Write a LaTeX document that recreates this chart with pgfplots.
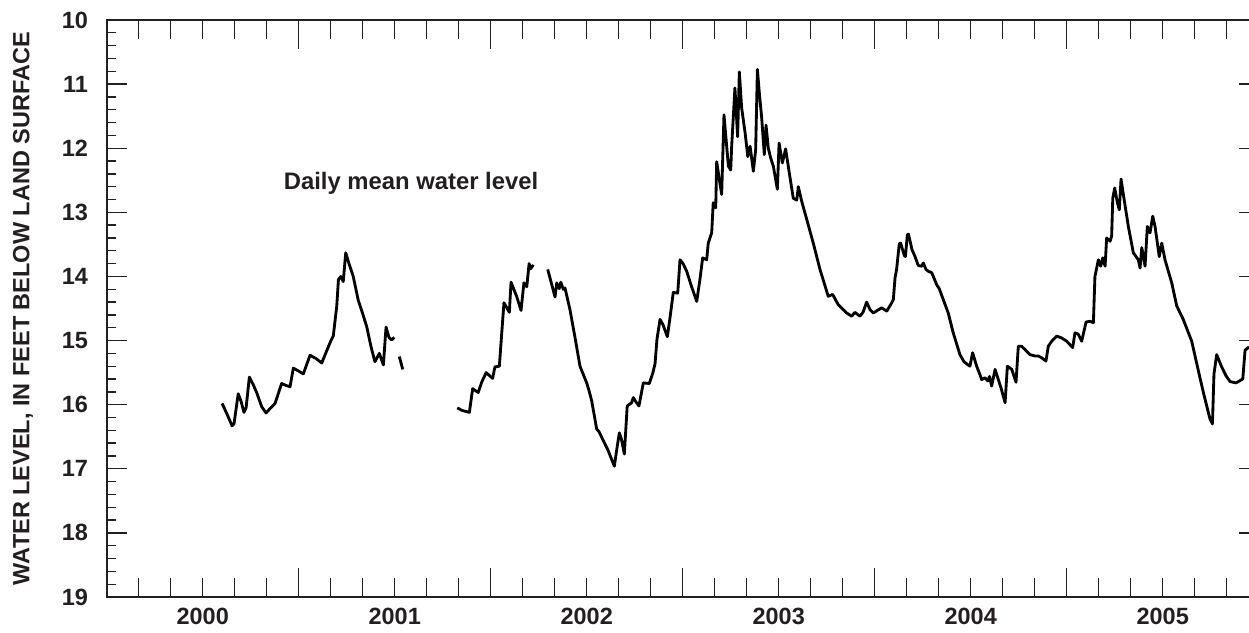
\documentclass[border=0pt]{standalone}
\usepackage{pgfplots}
\pgfplotsset{compat=1.18}
\usepackage{fontspec}
\setmainfont{Liberation Sans}
\definecolor{ink}{RGB}{35,31,32}

% Daily mean water level, feet below land surface (decimal year, depth)
\pgfplotstableread{
year depth
2000.601 15.98
2000.627 16.15
2000.653 16.33
2000.663 16.30
2000.685 15.83
2000.700 15.95
2000.715 16.12
2000.726 16.05
2000.743 15.57
2000.762 15.68
2000.781 15.81
2000.807 16.03
2000.830 16.13
2000.851 16.06
2000.877 15.98
2000.911 15.67
2000.934 15.70
2000.955 15.72
2000.972 15.43
2000.996 15.47
2001.024 15.52
2001.059 15.23
2001.090 15.28
2001.120 15.35
2001.154 15.10
2001.168 15.00
2001.180 14.93
2001.198 14.47
2001.207 14.05
2001.219 14.00
2001.232 14.08
2001.245 13.63
2001.262 13.80
2001.284 14.00
2001.310 14.37
2001.330 14.55
2001.354 14.78
2001.377 15.10
2001.397 15.33
2001.420 15.20
2001.441 15.38
2001.455 14.79
2001.470 14.95
2001.484 14.99
2001.498 14.95
}\segA

\pgfplotstableread{
year depth
2001.524 15.25
2001.542 15.45
}\segB

\pgfplotstableread{
year depth
2001.826 16.05
2001.851 16.09
2001.889 16.12
2001.906 15.75
2001.920 15.78
2001.935 15.81
2001.953 15.65
2001.976 15.50
2002.010 15.59
2002.022 15.41
2002.045 15.40
2002.069 14.41
2002.097 14.56
2002.106 14.09
2002.135 14.31
2002.158 14.53
2002.173 14.10
2002.188 14.16
2002.200 13.80
2002.208 13.88
2002.222 13.82
}\segC

\pgfplotstableread{
year depth
2002.297 13.89
2002.335 14.32
2002.344 14.10
2002.357 14.19
2002.365 14.09
2002.378 14.20
2002.387 14.18
2002.413 14.52
2002.439 14.95
2002.465 15.40
2002.500 15.66
2002.512 15.78
2002.526 15.94
2002.552 16.38
2002.564 16.42
2002.583 16.54
2002.611 16.71
2002.644 16.96
2002.655 16.73
2002.670 16.44
2002.681 16.54
2002.696 16.77
2002.711 16.02
2002.734 15.97
2002.743 15.89
2002.757 15.96
2002.772 16.02
2002.795 15.66
2002.826 15.67
2002.844 15.51
2002.856 15.36
2002.866 14.98
2002.882 14.67
2002.897 14.75
2002.920 14.94
2002.934 14.64
2002.951 14.25
2002.974 14.26
2002.986 13.74
2003.002 13.80
2003.021 13.92
2003.043 14.13
2003.073 14.39
2003.090 14.04
2003.104 13.71
2003.125 13.74
2003.133 13.48
2003.151 13.32
2003.159 12.85
2003.172 12.93
2003.177 12.21
2003.191 12.49
2003.203 12.72
2003.215 11.48
2003.238 12.28
2003.250 12.34
2003.255 11.97
2003.272 11.06
2003.286 11.82
2003.295 10.81
2003.307 11.37
2003.325 11.76
2003.339 12.13
2003.351 11.97
2003.368 12.36
2003.380 12.02
2003.389 10.77
2003.400 11.17
2003.411 11.51
2003.425 12.10
2003.434 11.64
2003.446 12.00
2003.458 12.15
2003.472 12.28
2003.493 12.64
2003.502 11.92
2003.519 12.23
2003.536 12.01
2003.559 12.46
2003.576 12.78
2003.594 12.81
2003.602 12.60
2003.620 12.83
2003.646 13.11
2003.680 13.48
2003.715 13.89
2003.758 14.31
2003.781 14.28
2003.810 14.44
2003.854 14.57
2003.880 14.62
2003.897 14.56
2003.923 14.62
2003.939 14.56
2003.958 14.40
2003.976 14.52
2003.993 14.57
2004.019 14.52
2004.036 14.49
2004.063 14.54
2004.089 14.41
2004.097 14.36
2004.106 14.02
2004.114 13.89
2004.128 13.49
2004.135 13.48
2004.154 13.67
2004.160 13.69
2004.170 13.35
2004.176 13.34
2004.194 13.58
2004.210 13.69
2004.227 13.83
2004.245 13.84
2004.253 13.79
2004.267 13.89
2004.279 13.92
2004.297 13.94
2004.323 14.13
2004.336 14.19
2004.357 14.36
2004.383 14.57
2004.409 14.88
2004.444 15.22
2004.465 15.33
2004.482 15.37
2004.496 15.40
2004.510 15.19
2004.531 15.40
2004.548 15.53
2004.557 15.61
2004.574 15.58
2004.589 15.63
2004.598 15.56
2004.609 15.71
2004.627 15.45
2004.644 15.61
2004.660 15.76
2004.679 15.97
2004.691 15.40
2004.714 15.45
2004.736 15.65
2004.748 15.09
2004.766 15.09
2004.783 15.14
2004.809 15.22
2004.835 15.24
2004.852 15.24
2004.870 15.27
2004.892 15.32
2004.904 15.09
2004.922 15.01
2004.948 14.93
2004.974 14.96
2005.000 15.01
2005.031 15.11
2005.043 14.88
2005.060 14.90
2005.078 15.01
2005.101 14.71
2005.121 14.70
2005.139 14.72
2005.147 14.00
2005.165 13.74
2005.177 13.84
2005.188 13.71
2005.200 13.84
2005.208 13.40
2005.226 13.45
2005.234 13.37
2005.240 12.78
2005.250 12.62
2005.264 12.85
2005.274 12.96
2005.283 12.48
2005.295 12.72
2005.321 13.22
2005.347 13.63
2005.373 13.74
2005.382 13.87
2005.391 13.55
2005.408 13.84
2005.420 13.22
2005.434 13.32
2005.448 13.06
2005.460 13.22
2005.482 13.69
2005.495 13.48
2005.512 13.74
2005.547 14.10
2005.573 14.46
2005.607 14.67
2005.651 15.01
2005.694 15.58
2005.715 15.85
2005.736 16.10
2005.746 16.22
2005.759 16.30
2005.767 15.52
2005.781 15.22
2005.807 15.41
2005.830 15.55
2005.851 15.64
2005.882 15.66
2005.917 15.60
2005.929 15.15
2005.950 15.10
}\segD

\pgfplotsset{
  hydro/.style={
    scale only axis,
    width=691.2pt, height=346.2pt,
    at={(0,0)}, anchor=south west,
    xmin=2000, xmax=2006, ymin=10, ymax=19,
    axis line style={line width=1.2pt, draw=ink},
    tick style={line width=0.8pt, draw=ink},
    tick align=inside,
    tick label style={font=\fontsize{14.1}{16}\selectfont\bfseries, text=ink},
    /pgf/number format/assume math mode=true,
  },
}

\begin{document}
\begin{tikzpicture}
\path[use as bounding box] (-64.02pt,-21.6pt) rectangle (685.38pt,358.2pt);

% year and two-month ticks on top and bottom
\begin{axis}[hydro,
  ytick=\empty,
  xtick={2000,2001,2002,2003,2004,2005,2006},
  xticklabels={},
  minor xtick={2000.1667,2000.3333,2000.5,2000.6667,2000.8333,
               2001.1667,2001.3333,2001.5,2001.6667,2001.8333,
               2002.1667,2002.3333,2002.5,2002.6667,2002.8333,
               2003.1667,2003.3333,2003.5,2003.6667,2003.8333,
               2004.1667,2004.3333,2004.5,2004.6667,2004.8333,
               2005.1667,2005.3333,2005.5,2005.6667,2005.8333},
  xtick pos=both,
  major tick length=17.6pt,
  minor tick length=11.6pt,
]
\end{axis}

% year labels centred in each year
\begin{axis}[hydro,
  ytick=\empty,
  axis line style={draw=none},
  xtick={2000.5,2001.5,2002.5,2003.5,2004.5,2005.5},
  xticklabels={2000,2001,2002,2003,2004,2005},
  major tick length=0pt,
  xticklabel style={yshift=-3pt},
]
\end{axis}

% depth ticks, data and annotation
\begin{axis}[hydro,
  y dir=reverse,
  xtick=\empty,
  ytick={10,11,...,19},
  minor y tick num=4,
  ytick pos=both,
  major tick length=12pt,
  minor tick length=5.4pt,
  yticklabel style={xshift=-7.7pt},
  ylabel={WATER LEVEL, IN FEET BELOW LAND SURFACE},
  every axis y label/.style={at={(axis description cs:-0.0727,0.5)}, rotate=90, anchor=center,
    font=\fontsize{14.1}{16}\selectfont\bfseries, text=ink},
]
\addplot[line width=1.7pt, black, line join=round] table[x=year, y=depth] {\segA};
\addplot[line width=1.7pt, black, line join=round] table[x=year, y=depth] {\segB};
\addplot[line width=1.7pt, black, line join=round] table[x=year, y=depth] {\segC};
\addplot[line width=1.7pt, black, line join=round] table[x=year, y=depth] {\segD};
\node[font=\fontsize{14.3}{16}\selectfont\bfseries, text=ink] at (axis cs:2001.585,12.55) {Daily mean water level};
\end{axis}
\end{tikzpicture}
\end{document}
